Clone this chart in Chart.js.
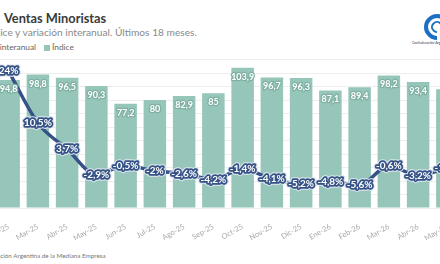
<!DOCTYPE html>
<html lang="es">
<head>
<meta charset="UTF-8">
<title>Ventas Minoristas</title>
<script src="https://cdn.jsdelivr.net/npm/chart.js"></script>
<style>
    body {
        margin: 0;
        width: 440px;
        height: 264px;
        overflow: hidden;
        position: relative;
        background: #fff;
        font-family: Lato, 'Open Sans', sans-serif;
    }
    .title {
        position: absolute;
        left: 4px;
        top: 10px;
        font-size: 12.8px;
        font-weight: bold;
        color: #3a3a3a;
        white-space: nowrap;
    }
    .cut {
        position: absolute;
        white-space: nowrap;
    }
    .subtitle {
        top: 26px;
        font-size: 10.2px;
        color: #8a8a8a;
    }
    .legend {
        top: 42px;
        font-size: 8.3px;
        color: #666;
    }
    .legend .sw {
        display: inline-block;
        width: 6px;
        height: 6px;
        background: #96c6b9;
        margin: 0 2px 0 8px;
        vertical-align: -0.5px;
    }
    .legend .ln {
        display: inline-block;
        width: 12px;
        height: 3px;
        background: #355386;
        margin-right: 3px;
        vertical-align: 2px;
    }
    .footer {
        top: 252px;
        font-size: 6.3px;
        color: #777;
    }
    .logo {
        position: absolute;
        left: 424px;
        top: 14px;
        width: 26px;
        height: 26px;
    }
    .logo div {
        position: absolute;
        border-radius: 50%;
        border-style: solid;
        border-color: #1b6fc4;
        border-right-color: transparent;
        transform: rotate(45deg);
    }
    .logo-txt {
        position: absolute;
        left: 412px;
        top: 41px;
        font-size: 3.5px;
        color: #335;
        white-space: nowrap;
    }
    #wrap {
        position: absolute;
        left: -6px;
        top: 50px;
        width: 468px;
        height: 190px;
    }
</style>
</head>
<body>
    <div class="title">Ventas Minoristas</div>
    <div class="cut subtitle" id="sub"><span class="pre">Índ</span>ice y variación interanual. Últimos 18 meses.</div>
    <div class="cut legend" id="leg"><span class="pre"><span class="ln"></span>Variación </span>interanual<span class="sw"></span>Índice</div>
    <div class="cut footer" id="foot"><span class="pre">Fuente: Confedera</span>ción Argentina de la Mediana Empresa</div>

    <div class="logo">
        <div style="left:0;top:0;width:18px;height:18px;border-width:4px;"></div>
        <div style="left:7px;top:7px;width:8px;height:8px;border-width:2px;"></div>
    </div>
    <div class="logo-txt">Confederación Argentina de la Mediana Empresa</div>

    <div id="wrap"><canvas id="chart"></canvas></div>

    <script>
        // Datos
        const meses = ['Feb-25', 'Mar-25', 'Abr-25', 'May-25', 'Jun-25', 'Jul-25', 'Ago-25', 'Sep-25',
                       'Oct-25', 'Nov-25', 'Dic-25', 'Ene-26', 'Feb-26', 'Mar-26', 'Abr-26', 'May-26'];
        const indice = [94.8, 98.8, 96.5, 90.3, 77.2, 80, 82.9, 85, 103.9, 96.7, 96.3, 87.1, 89.4, 98.2, 93.4, 88];
        const variacion = [24, 10.5, 3.7, -2.9, -0.5, -2, -2.6, -4.2, -1.4, -4.1, -5.2, -4.8, -5.6, -0.6, -3.2, -1.1];

        // shift the cut-off texts so the hidden prefix sits left of the page
        ['sub', 'leg', 'foot'].forEach(id => {
            const el = document.getElementById(id);
            el.style.left = (-el.querySelector('.pre').offsetWidth) + 'px';
        });

        const fmt = v => String(v).replace('.', ',');

        const labelPlugin = {
            id: 'labels',
            afterDatasetsDraw(chart) {
                const ctx = chart.ctx;
                ctx.save();
                ctx.textAlign = 'center';
                ctx.textBaseline = 'middle';
                ctx.lineJoin = 'round';

                // bar values
                ctx.font = 'bold 9px Lato';
                chart.getDatasetMeta(1).data.forEach((el, i) => {
                    const t = fmt(indice[i]);
                    ctx.strokeStyle = '#7fb0a3';
                    ctx.lineWidth = 2.5;
                    ctx.strokeText(t, el.x, el.y + 9);
                    ctx.fillStyle = '#fff';
                    ctx.fillText(t, el.x, el.y + 9);
                });

                // line values
                ctx.font = 'bold 10px Lato';
                chart.getDatasetMeta(0).data.forEach((el, i) => {
                    const t = fmt(variacion[i]) + '%';
                    ctx.strokeStyle = '#dfe6f0';
                    ctx.lineWidth = 5.5;
                    ctx.strokeText(t, el.x, el.y);
                    ctx.strokeStyle = '#355386';
                    ctx.lineWidth = 3.5;
                    ctx.strokeText(t, el.x, el.y);
                    ctx.fillStyle = '#fff';
                    ctx.fillText(t, el.x, el.y);
                });
                ctx.restore();
            }
        };

        new Chart(document.getElementById('chart'), {
            data: {
                labels: meses,
                datasets: [{
                    type: 'line',
                    label: 'Variación interanual',
                    data: variacion,
                    yAxisID: 'y2',
                    borderColor: '#355386',
                    borderWidth: 3.5,
                    pointRadius: 0,
                    cubicInterpolationMode: 'monotone',
                    order: 0
                }, {
                    type: 'bar',
                    label: 'Índice',
                    data: indice,
                    yAxisID: 'y',
                    backgroundColor: '#96c6b9',
                    barPercentage: 0.77,
                    categoryPercentage: 1,
                    order: 1
                }]
            },
            options: {
                responsive: true,
                maintainAspectRatio: false,
                animation: false,
                layout: { padding: { top: 9.5, left: 0, right: 0, bottom: 0 } },
                plugins: {
                    legend: { display: false },
                    tooltip: { enabled: false }
                },
                scales: {
                    x: {
                        grid: { display: false },
                        border: { display: false },
                        ticks: {
                            color: '#a8a8a8',
                            font: { family: 'Lato', size: 7.5 },
                            minRotation: 30,
                            maxRotation: 30,
                            padding: 6
                        },
                        afterFit(scale) {
                            scale.paddingLeft = 0;
                            scale.paddingRight = 0;
                            scale.height = 32;
                        }
                    },
                    y: {
                        min: 0,
                        max: 110,
                        ticks: { display: false, stepSize: 10 },
                        grid: { color: '#eeeeee', drawTicks: false },
                        border: { display: false },
                        afterFit(scale) { scale.width = 0; }
                    },
                    y2: {
                        display: false,
                        min: -11.6,
                        max: 27
                    }
                }
            },
            plugins: [labelPlugin]
        });
    </script>
</body>
</html>
